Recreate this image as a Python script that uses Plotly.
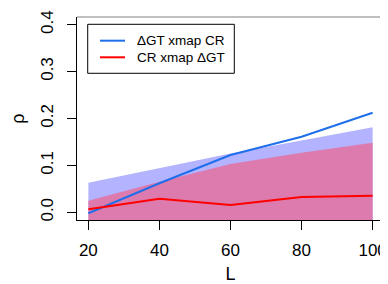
import plotly.graph_objects as go

L = [20, 40, 60, 80, 100]
gt_xmap_cr = [-0.002, 0.062, 0.122, 0.161, 0.212]
cr_xmap_gt = [0.0064, 0.029, 0.0155, 0.0326, 0.0354]
blue_band_hi = [0.063, 0.094, 0.1255, 0.153, 0.1815]
blue_band_lo = [-0.05, -0.05, -0.05, -0.05, -0.05]
pink_band_hi = [0.0247, 0.065, 0.103, 0.127, 0.148]
pink_band_lo = [-0.05, -0.05, -0.05, -0.05, -0.05]
y_ticks = [0.0, 0.1, 0.2, 0.3, 0.4]
x_ticks = [20, 40, 60, 80, 100]
series_names = ["ΔGT xmap CR", "CR xmap ΔGT"]
series_colors = ["#1F6FEB", "#FF0000"]

FONT = "Liberation Sans, Arial, Helvetica, sans-serif"

fig = go.Figure()
fig.add_trace(go.Scatter(x=L, y=blue_band_lo, mode="lines", line=dict(width=0),
                         showlegend=False, hoverinfo="skip"))
fig.add_trace(go.Scatter(x=L, y=blue_band_hi, mode="lines", line=dict(width=0),
                         fill="tonexty", fillcolor="#B3B3FF", showlegend=False, hoverinfo="skip"))
fig.add_trace(go.Scatter(x=L, y=pink_band_lo, mode="lines", line=dict(width=0),
                         showlegend=False, hoverinfo="skip"))
fig.add_trace(go.Scatter(x=L, y=pink_band_hi, mode="lines", line=dict(width=0),
                         fill="tonexty", fillcolor="#DE7BAE", showlegend=False, hoverinfo="skip"))
for ys, nm, col in zip([gt_xmap_cr, cr_xmap_gt], series_names, series_colors):
    fig.add_trace(go.Scatter(x=L, y=ys, mode="lines", name=nm,
                             line=dict(color=col, width=2), showlegend=False))

# page body has an 8px margin: size the figure so the plot lands where the reference has it
fig.update_layout(
    width=380, height=276,
    margin=dict(l=69, r=4, t=9, b=64),
    paper_bgcolor="white", plot_bgcolor="white",
    font=dict(family=FONT, color="black"),
    showlegend=False,
)
fig.update_xaxes(range=[16.8, 103.2], tickvals=x_ticks, ticks="outside", ticklen=9,
                 tickcolor="black", tickwidth=1, showgrid=False, zeroline=False,
                 showline=True, linecolor="black", linewidth=1, mirror=False,
                 tickfont=dict(size=17, color="black"), ticklabelstandoff=6, automargin=False,
                 title=dict(text="L", font=dict(size=18, color="black"), standoff=9))
fig.update_yaxes(range=[-0.0164, 0.4162], tickvals=y_ticks, tickformat=".1f",
                 ticks="outside", ticklen=9, tickcolor="black", tickwidth=1,
                 showgrid=False, zeroline=False, showline=True, linecolor="black",
                 linewidth=1, tickangle=-90, tickfont=dict(size=17, color="black"),
                 ticklabelstandoff=7, automargin=False,
                 title=dict(text="ρ", font=dict(size=18, color="black"), standoff=8))
# gray top/right frame
fig.add_shape(type="line", xref="paper", yref="paper", x0=0, x1=1, y0=1, y1=1,
              line=dict(color="#808080", width=1))
fig.add_shape(type="line", xref="paper", yref="paper", x0=1, x1=1, y0=0, y1=1,
              line=dict(color="#808080", width=1))

# legend box (R-style)
fig.add_shape(type="rect", xref="paper", yref="paper", x0=0.0349, x1=0.5124,
              y0=0.7227, y1=0.964, line=dict(color="black", width=1), fillcolor="white")
for ly, nm, col in zip([0.8833, 0.8015], series_names, series_colors):
    fig.add_shape(type="line", xref="paper", yref="paper", x0=0.0749, x1=0.1564,
                  y0=ly, y1=ly, line=dict(color=col, width=2))
    fig.add_annotation(xref="paper", yref="paper", x=0.1889, y=ly, text=nm,
                       showarrow=False, xanchor="left", yanchor="middle",
                       font=dict(size=13.5, family=FONT, color="black"))

fig.write_html("out.html")
